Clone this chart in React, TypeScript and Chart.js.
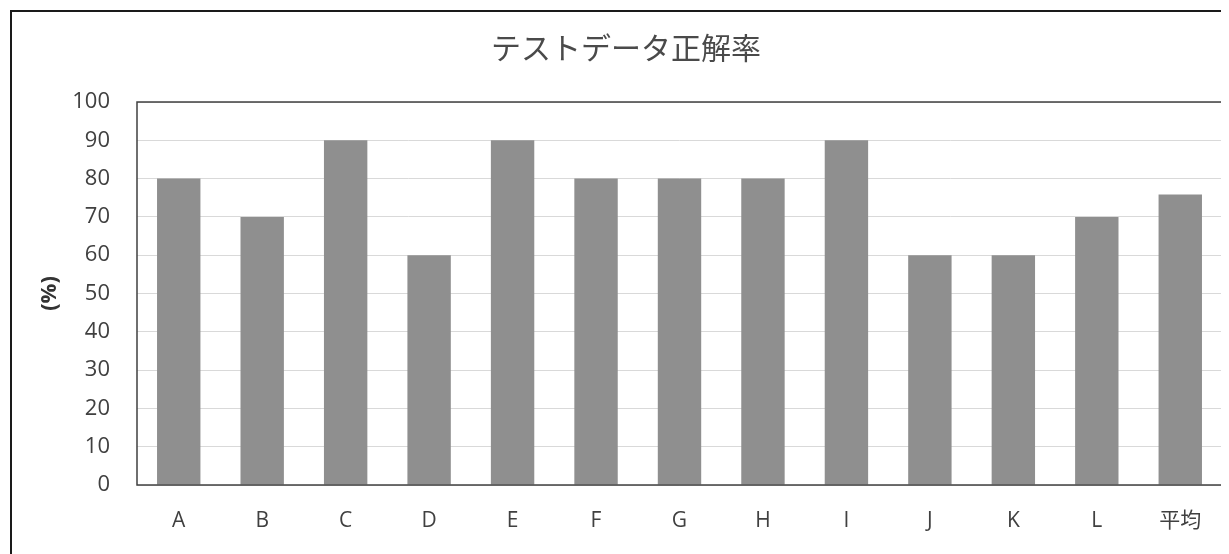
import React, { useEffect, useRef } from "react";
import { Chart, registerables } from "chart.js";

Chart.register(...registerables);

const categories = ["A", "B", "C", "D", "E", "F", "G", "H", "I", "J", "K", "L", "平均"];
const scores = [80, 70, 90, 60, 90, 80, 80, 80, 90, 60, 60, 70, 75.83];
const chartTitle = "テストデータ正解率";
const yAxisTitle = "(%)";
const yMin = 0;
const yMax = 100;
const yStep = 10;

const decorPlugin = {
  id: "decor",
  beforeDraw(chart: any) {
    const { ctx, width, height } = chart;
    ctx.save();
    ctx.fillStyle = "#ffffff";
    ctx.fillRect(0, 0, width, height);
    ctx.restore();
  },
  afterDraw(chart: any) {
    const { ctx, chartArea } = chart;
    ctx.save();
    // outer frame
    ctx.strokeStyle = "#1a1a1a";
    ctx.lineWidth = 2;
    ctx.strokeRect(3, 3, 1400, 800);
    // plot frame
    ctx.strokeStyle = "#404040";
    ctx.lineWidth = 1.5;
    ctx.strokeRect(chartArea.left, chartArea.top, chartArea.right - chartArea.left, chartArea.bottom - chartArea.top);
    // title
    ctx.fillStyle = "#4a4a4a";
    ctx.font = "30px 'Noto Sans CJK JP', sans-serif";
    ctx.textAlign = "center";
    ctx.textBaseline = "middle";
    ctx.fillText(chartTitle, 618, 40);
    // y axis title
    ctx.translate(42, (chartArea.top + chartArea.bottom) / 2);
    ctx.rotate(-Math.PI / 2);
    ctx.fillStyle = "#333333";
    ctx.font = "bold 22px 'Open Sans', sans-serif";
    ctx.fillText(yAxisTitle, 0, 0);
    ctx.restore();
  },
};

export default function App() {
  const ref = useRef<HTMLCanvasElement | null>(null);
  useEffect(() => {
    if (!ref.current) return;
    const chart = new Chart(ref.current, {
      type: "bar",
      data: {
        labels: categories,
        datasets: [
          {
            data: scores,
            backgroundColor: "#8f8f8f",
            borderWidth: 0,
            barPercentage: 0.52,
            categoryPercentage: 1,
          },
        ],
      },
      options: {
        animation: false,
        responsive: true,
        maintainAspectRatio: false,
        layout: { padding: { top: 94, right: 7, bottom: 0, left: 0 } },
        plugins: {
          legend: { display: false },
          title: { display: false },
          tooltip: { enabled: false },
        },
        scales: {
          x: {
            grid: { display: false, drawTicks: false },
            border: { display: false },
            ticks: {
              color: "#404040",
              font: { family: "'Open Sans', 'Noto Sans CJK JP', sans-serif", size: 21 },
              padding: 23,
              maxRotation: 0,
            },
            afterFit(scale: any) {
              scale.height = 69;
            },
          },
          y: {
            min: yMin,
            max: yMax,
            grid: { color: "#d9d9d9", lineWidth: 1, drawTicks: false },
            border: { display: false },
            ticks: {
              stepSize: yStep,
              color: "#404040",
              font: { family: "'Open Sans', sans-serif", size: 22 },
              padding: 27,
            },
            afterFit(scale: any) {
              scale.width = 129;
            },
          },
        },
      },
      plugins: [decorPlugin],
    });
    return () => chart.destroy();
  }, []);
  return (
    <div style={{ position: "relative", width: 1221, height: 546 }}>
      <canvas ref={ref} />
    </div>
  );
}
